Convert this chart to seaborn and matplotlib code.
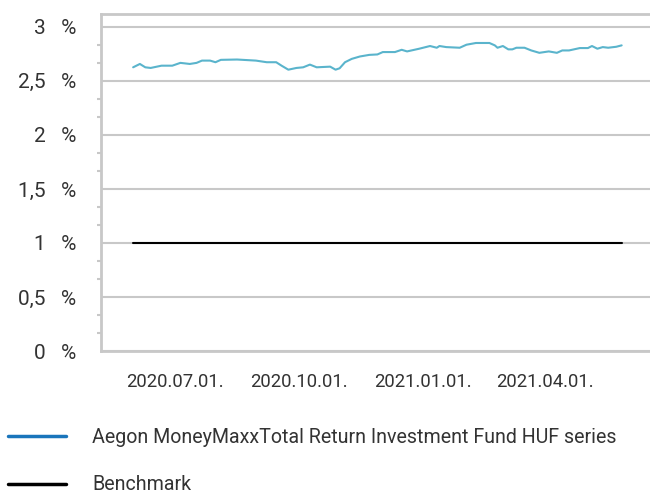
"""
Aegon MoneyMaxx Total Return fund vs benchmark - recreated chart
"""
import pandas as pd
import matplotlib
matplotlib.use("Agg")
import matplotlib.pyplot as plt
import matplotlib.dates as mdates
from matplotlib.ticker import MultipleLocator, FuncFormatter
from matplotlib.lines import Line2D
import seaborn as sns

# Data
fund_dates = [
    "2020-05-31", "2020-06-05", "2020-06-09", "2020-06-13", "2020-06-21", "2020-06-29",
    "2020-07-05", "2020-07-12", "2020-07-17", "2020-07-21", "2020-07-27", "2020-07-31",
    "2020-08-04", "2020-08-16", "2020-08-30", "2020-09-07", "2020-09-14", "2020-09-18",
    "2020-09-23", "2020-09-29", "2020-10-04", "2020-10-09", "2020-10-14", "2020-10-24",
    "2020-10-28", "2020-10-31", "2020-11-04", "2020-11-09", "2020-11-15", "2020-11-22",
    "2020-11-28", "2020-12-02", "2020-12-11", "2020-12-16", "2020-12-20", "2020-12-29",
    "2021-01-06", "2021-01-11", "2021-01-13", "2021-01-18", "2021-01-28", "2021-02-02",
    "2021-02-09", "2021-02-19", "2021-02-23", "2021-02-25", "2021-03-01", "2021-03-05",
    "2021-03-08", "2021-03-11", "2021-03-17", "2021-03-22", "2021-03-28", "2021-04-04",
    "2021-04-10", "2021-04-14", "2021-04-19", "2021-04-27", "2021-05-03", "2021-05-06",
    "2021-05-10", "2021-05-14", "2021-05-18", "2021-05-24", "2021-05-28",
]
fund_values = [
    2.625, 2.656, 2.625, 2.619, 2.640, 2.640,
    2.666, 2.656, 2.666, 2.687, 2.687, 2.672,
    2.694, 2.697, 2.687, 2.672, 2.672, 2.640,
    2.603, 2.619, 2.625, 2.650, 2.625, 2.631,
    2.603, 2.616, 2.672, 2.703, 2.725, 2.740,
    2.744, 2.766, 2.766, 2.787, 2.772, 2.797,
    2.822, 2.806, 2.822, 2.812, 2.806, 2.834,
    2.850, 2.850, 2.828, 2.806, 2.822, 2.791,
    2.791, 2.806, 2.806, 2.781, 2.759, 2.772,
    2.759, 2.781, 2.781, 2.803, 2.803, 2.822,
    2.797, 2.812, 2.806, 2.815, 2.828,
]
bench_dates = ["2020-05-31", "2021-05-28"]
bench_values = [1.0, 1.0]

labels = ["Aegon MoneyMaxxTotal Return Investment Fund HUF series", "Benchmark"]
x_ticks = ["2020-07-01", "2020-10-01", "2021-01-01", "2021-04-01"]
y_ticks = [0, 0.5, 1, 1.5, 2, 2.5, 3]

# Style
sns.set_style("white")
plt.rcParams["font.family"] = ["Roboto", "DejaVu Sans"]
GRAY = "#c8c8c8"
TEXT = "#333333"

fund = pd.DataFrame({"date": pd.to_datetime(fund_dates), "value": fund_values})
bench = pd.DataFrame({"date": pd.to_datetime(bench_dates), "value": bench_values})

fig = plt.figure(figsize=(6.5, 4.93), dpi=100)
ax = fig.add_axes([0.155, 0.288, 0.845, 0.684])

sns.lineplot(data=fund, x="date", y="value", ax=ax, color="#5ab4cc", linewidth=1.5)
sns.lineplot(data=bench, x="date", y="value", ax=ax, color="black", linewidth=1.5)

ax.set_xlim(pd.Timestamp("2020-05-07"), pd.Timestamp("2021-06-18"))
ax.set_ylim(0, 3.12)
ax.set_xlabel("")
ax.set_ylabel("")

ax.set_xticks(pd.to_datetime(x_ticks))
ax.xaxis.set_major_formatter(mdates.DateFormatter("%Y.%m.%d."))
ax.set_yticks(y_ticks)
ax.yaxis.set_minor_locator(MultipleLocator(0.5 / 3))
ax.yaxis.set_major_formatter(FuncFormatter(lambda v, p: f"{v:g}".replace(".", ",") + "   %"))

ax.grid(axis="y", color=GRAY, linewidth=1.5)
ax.set_axisbelow(True)
for side in ["left", "bottom", "top"]:
    ax.spines[side].set_color(GRAY)
    ax.spines[side].set_linewidth(2)
ax.spines["right"].set_visible(False)

ax.tick_params(axis="both", which="major", direction="out", length=7.5, width=1.5,
               color=GRAY, labelcolor=TEXT, labelsize=15)
ax.tick_params(axis="y", which="major", pad=10)
ax.tick_params(axis="x", which="major", pad=8, labelsize=13.3)
ax.tick_params(axis="y", which="minor", direction="out", length=3, width=1.5, color=GRAY, left=True)

handles = [Line2D([], [], color="#1a75bb", linewidth=2.5),
           Line2D([], [], color="black", linewidth=2.5)]
fig.legend(handles, labels, loc="upper left", bbox_to_anchor=(0.012, 1 - 428 / 493),
           frameon=False, fontsize=14.1, handlelength=2.95, handletextpad=1.35,
           labelspacing=1.45, labelcolor=TEXT, borderaxespad=0, borderpad=0)

fig.savefig("out.png", dpi=100)
